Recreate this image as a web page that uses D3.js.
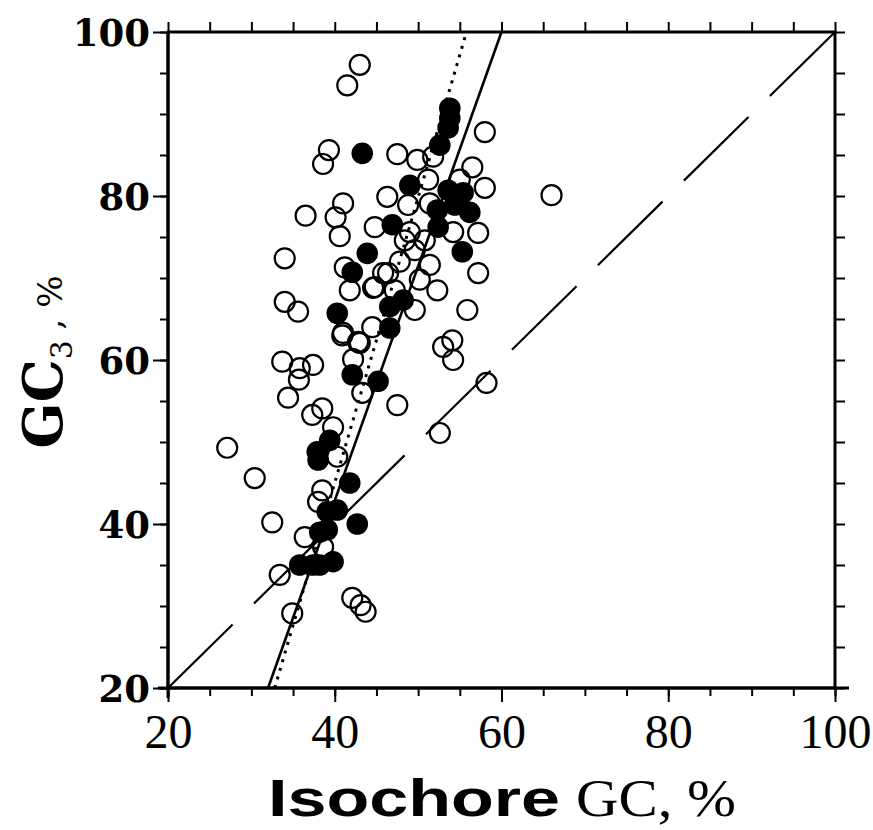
<!DOCTYPE html>
<meta charset="utf-8">
<head>
  <title>GC3 vs Isochore GC</title>
  <script type="text/javascript" src="https://cdn.jsdelivr.net/npm/d3@7"></script>
  <style>
    body {margin: 0; background: #fff;}
    .tick text {fill: #000;}
  </style>
</head>
<body>
<script>

// open circles: isochore GC (x) and GC3 (y)
var openIso = [43.0, 41.5, 39.3, 38.6, 47.5, 46.3, 41.0, 40.1, 36.5, 40.6, 44.8, 34.0, 41.2, 41.8, 44.8,
               47.8, 46.4, 34.0, 35.6, 40.9, 43.0, 44.5, 33.7, 35.8, 37.4, 35.7, 34.4, 37.3, 38.5, 42.2,
               43.3, 47.5, 27.1, 39.8, 30.4, 32.5, 38.5, 38.0, 36.4, 38.6, 33.4, 34.9, 42.1, 43.1, 43.7,
               40.3, 52.6, 58.2, 54.2, 53.0, 54.1, 55.9, 57.2, 57.2, 58.0, 58.0, 66.0, 49.9, 51.8, 56.5,
               55.0, 51.2, 51.4, 54.2, 45.8, 44.6, 49.6, 42.8, 41.0, 50.2, 48.4, 49.6, 47.2, 49.0, 50.8,
               51.4, 52.3, 48.8];
var openGC3 = [96.0, 93.5, 85.6, 83.9, 85.1, 79.9, 79.1, 77.4, 77.6, 75.1, 76.2, 72.4, 71.3, 68.5, 68.9,
               72.0, 70.6, 67.1, 65.9, 63.0, 62.1, 64.0, 59.8, 59.0, 59.4, 57.6, 55.4, 53.3, 54.1, 60.1,
               56.0, 54.5, 49.3, 51.8, 45.6, 40.2, 44.1, 42.7, 38.4, 37.2, 33.8, 29.1, 31.0, 30.1, 29.3,
               48.2, 51.1, 57.2, 60.0, 61.6, 62.4, 66.1, 70.6, 75.5, 81.0, 87.8, 80.1, 84.4, 84.8, 83.5,
               82.0, 82.0, 79.1, 75.6, 70.6, 68.8, 66.1, 62.2, 63.3, 69.8, 74.6, 73.4, 68.5, 75.6, 74.6,
               71.6, 68.5, 78.9];

// filled circles
var filledIso = [53.8, 53.8, 53.6, 52.6, 43.3, 49.0, 53.6, 55.4, 52.3, 56.2, 46.9, 52.4, 55.3, 43.9, 42.1,
                 40.3, 46.6, 48.2, 46.6, 42.1, 45.2, 37.9, 39.4, 38.0, 41.8, 40.3, 39.1, 42.7, 39.1, 38.2,
                 37.4, 35.8, 38.2, 39.8, 54.4];
var filledGC3 = [90.7, 89.5, 88.3, 86.2, 85.2, 81.3, 80.7, 80.4, 78.3, 78.0, 76.5, 76.2, 73.2, 73.0, 70.7,
                 65.7, 66.5, 67.3, 63.9, 58.2, 57.4, 48.8, 50.2, 47.8, 45.0, 41.7, 41.5, 40.0, 39.3, 39.0,
                 35.0, 35.0, 35.0, 35.4, 78.9];

// regression lines and diagonal
var solidLine = [[32.0, 20], [60.0, 100]];
var dottedLine = [[32.8, 20], [55.8, 100]];
var diagLine = [[20, 20], [100, 100]];

var majorTicks = [20, 40, 60, 80, 100];
var minorTicks = d3.range(20, 101, 5);

var plotL = 168, plotR = 835, plotT = 32, plotB = 688;

var svg = d3.select("body").append("svg")
    .attr("width", 873)
    .attr("height", 830);

var x = d3.scaleLinear().domain([20, 100]).range([plotL, plotR]);
var y = d3.scaleLinear().domain([20, 100]).range([plotB, plotT]);

// axes: minor ticks first, then major ticks with labels
function addAxis(axisFn, scale, tx, ty, size, vals, fmt) {
    var g = svg.append("g")
        .attr("transform", "translate(" + tx + "," + ty + ")")
        .call(axisFn(scale).tickValues(vals).tickSize(size).tickFormat(fmt));
    g.select(".domain").remove();
    g.selectAll("line").attr("stroke", "#000").attr("stroke-width", 2);
    return g;
}

addAxis(d3.axisBottom, x, 0, plotB, 8, minorTicks, "");
var xMaj = addAxis(d3.axisBottom, x, 0, plotB, 14, majorTicks, d3.format("d"));
xMaj.selectAll("text")
    .attr("y", 60)
    .attr("dy", 0)
    .style("font-family", "'Liberation Serif', serif")
    .style("font-size", "48px");

addAxis(d3.axisLeft, y, plotL, 0, 8, minorTicks, "");
var yMaj = addAxis(d3.axisLeft, y, plotL, 0, 15, majorTicks, d3.format("d"));
yMaj.selectAll("text")
    .attr("x", -18)
    .attr("dy", "0.36em")
    .style("font-family", "'DejaVu Serif', serif")
    .style("font-weight", "bold")
    .style("font-size", "37px");

addAxis(d3.axisTop, x, 0, plotT, 10, minorTicks, "");
addAxis(d3.axisRight, y, plotR, 0, 10, minorTicks, "");

// frame
svg.append("rect")
    .attr("x", plotL).attr("y", plotT)
    .attr("width", plotR - plotL).attr("height", plotB - plotT)
    .attr("fill", "none").attr("stroke", "#000").attr("stroke-width", 3);

svg.append("line")
    .attr("x1", plotL - 10).attr("x2", plotR + 14)
    .attr("y1", plotB).attr("y2", plotB)
    .attr("stroke", "#000").attr("stroke-width", 3);
svg.append("line")
    .attr("x1", plotL).attr("x2", plotL)
    .attr("y1", plotT).attr("y2", plotB + 10)
    .attr("stroke", "#000").attr("stroke-width", 3);

var line = d3.line().x(function(d){return x(d[0]);}).y(function(d){return y(d[1]);});

svg.append("path").datum(diagLine).attr("d", line)
    .attr("fill", "none").attr("stroke", "#000").attr("stroke-width", 2.2)
    .attr("stroke-dasharray", "90.6,30");

svg.append("path").datum(dottedLine).attr("d", line)
    .attr("fill", "none").attr("stroke", "#000").attr("stroke-width", 3)
    .attr("stroke-dasharray", "3,6");

svg.append("path").datum(solidLine).attr("d", line)
    .attr("fill", "none").attr("stroke", "#000").attr("stroke-width", 2.6);

// points
svg.append("g").selectAll("circle")
    .data(openIso)
    .enter().append("circle")
    .attr("cx", function(d){return x(d);})
    .attr("cy", function(d, i){return y(openGC3[i]);})
    .attr("r", 10)
    .attr("fill", "none")
    .attr("stroke", "#000")
    .attr("stroke-width", 2.2);

svg.append("g").selectAll("circle")
    .data(filledIso)
    .enter().append("circle")
    .attr("cx", function(d){return x(d);})
    .attr("cy", function(d, i){return y(filledGC3[i]);})
    .attr("r", 10.8)
    .attr("fill", "#000");

// axis titles
svg.append("text")
    .attr("x", 268)
    .attr("y", 816)
    .attr("textLength", 292)
    .attr("lengthAdjust", "spacingAndGlyphs")
    .style("font-family", "'Liberation Sans', sans-serif")
    .style("font-weight", "bold")
    .style("font-size", "52px")
    .text("Isochore");

svg.append("text")
    .attr("x", 576)
    .attr("y", 816)
    .attr("textLength", 160)
    .attr("lengthAdjust", "spacingAndGlyphs")
    .style("font-family", "'Liberation Serif', serif")
    .style("font-size", "52px")
    .text("GC, %");

svg.append("text")
    .attr("transform", "translate(62,362) rotate(-90)")
    .attr("text-anchor", "middle")
    .html("<tspan style=\"font-family:'DejaVu Serif',serif;font-weight:bold;font-size:54px\">GC</tspan>"
        + "<tspan dy=\"10\" style=\"font-family:'DejaVu Serif',serif;font-size:30px\">3</tspan>"
        + "<tspan dy=\"-10\" style=\"font-family:'DejaVu Serif',serif;font-size:34px\"> , %</tspan>");

</script>
</body>
</html>
